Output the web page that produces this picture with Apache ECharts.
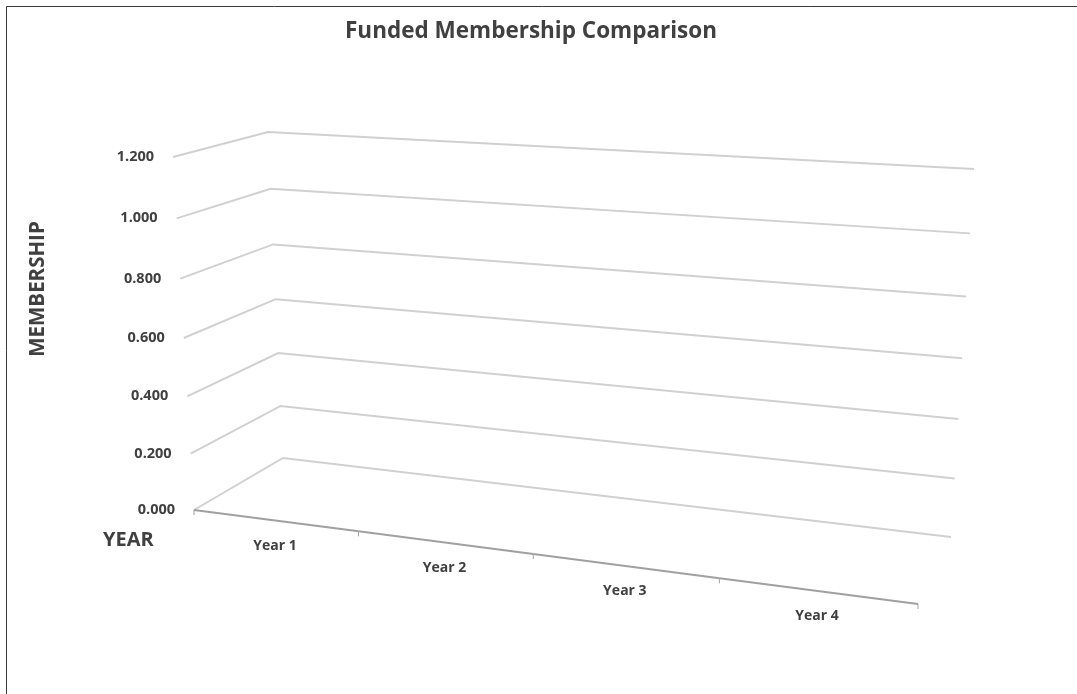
<!DOCTYPE html>
<html>
<head>
<meta charset="utf-8">
<title>Funded Membership Comparison</title>
<script src="https://cdn.jsdelivr.net/npm/echarts@6/dist/echarts.min.js"></script>
<style>
  html, body { margin: 0; padding: 0; background: #fff; }
  #chart { width: 1077px; height: 694px; }
</style>
</head>
<body>
<div id="chart"></div>
<script>
const categories = ['Year 1', 'Year 2', 'Year 3', 'Year 4'];
const membership = [0, 0, 0, 0]; // no columns visible in the original
const valueTicks = [0, 0.2, 0.4, 0.6, 0.8, 1.0, 1.2];

// corners of the 3D box as drawn in the picture (u,v) = (0,0),(1,0),(1,1),(0,1)
const LEFT_WALL = [[194, 510], [283, 458], [268, 132], [173, 157]];
const BACK_WALL = [[283, 458], [951, 537], [974, 169], [268, 132]];
const FLOOR = [[194, 510], [918, 604], [951, 537], [283, 458]];

const TEXT = '#404040';
const FONT = '"Open Sans", "Liberation Sans", sans-serif';

// unit square -> quad (projective), so the walls get their perspective
function quadMap(q) {
  const [[x0, y0], [x1, y1], [x2, y2], [x3, y3]] = q;
  const dx1 = x1 - x2, dx2 = x3 - x2, dx3 = x0 - x1 + x2 - x3;
  const dy1 = y1 - y2, dy2 = y3 - y2, dy3 = y0 - y1 + y2 - y3;
  const den = dx1 * dy2 - dx2 * dy1;
  const g = (dx3 * dy2 - dx2 * dy3) / den;
  const h = (dx1 * dy3 - dx3 * dy1) / den;
  const a = x1 - x0 + g * x1, b = x3 - x0 + h * x3, c = x0;
  const d = y1 - y0 + g * y1, e = y3 - y0 + h * y3, f = y0;
  return (u, v) => {
    const w = g * u + h * v + 1;
    return [(a * u + b * v + c) / w, (d * u + e * v + f) / w];
  };
}

const leftWall = quadMap(LEFT_WALL);
const backWall = quadMap(BACK_WALL);
const floor = quadMap(FLOOR);

// position inside the hidden grid, as 0..1 fractions
function unit(params, api, cat, val) {
  const cs = params.coordSys;
  const p = api.coord([cat, val]);
  return [(p[0] - cs.x) / cs.width, (cs.y + cs.height - p[1]) / cs.height];
}

const chart = echarts.init(document.getElementById('chart'));

chart.setOption({
  animation: false,
  title: {
    text: 'Funded Membership Comparison',
    left: 340,
    top: 15,
    textStyle: { color: TEXT, fontSize: 22.5, fontWeight: 'bold', fontFamily: FONT }
  },
  grid: { left: 0, right: 0, top: 0, bottom: 0 },
  xAxis: { type: 'category', data: categories, show: false },
  yAxis: { type: 'value', min: 0, max: 1.2, interval: 0.2, show: false },
  graphic: [
    {
      type: 'rect',
      shape: { x: 6.5, y: 6.5, width: 1200, height: 800 },
      style: { fill: null, stroke: '#3a3a3a', lineWidth: 1 },
      silent: true
    },
    {
      type: 'text',
      x: 38,
      y: 289,
      rotation: Math.PI / 2,
      style: {
        text: 'MEMBERSHIP', fill: TEXT, fontSize: 20.5, fontWeight: 'bold', fontFamily: FONT,
        align: 'center', verticalAlign: 'middle'
      }
    },
    {
      type: 'text',
      x: 103,
      y: 540,
      style: {
        text: 'YEAR', fill: TEXT, fontSize: 20, fontWeight: 'bold', fontFamily: FONT,
        align: 'left', verticalAlign: 'middle'
      }
    }
  ],
  series: [
    {
      // gridlines on the left and back walls, with the value labels
      type: 'custom',
      name: 'grid',
      silent: true,
      clip: false,
      data: valueTicks.map(v => [0, v]),
      renderItem: (params, api) => {
        const v = api.value(1);
        const t = unit(params, api, 0, v)[1];
        const a = leftWall(0, t);
        const b = backWall(0, t);
        const c = backWall(1, t);
        return {
          type: 'group',
          children: [
            {
              type: 'polyline',
              shape: { points: [a, b, c] },
              style: { stroke: '#d0d0d0', lineWidth: 2, fill: null }
            },
            {
              type: 'text',
              x: a[0] - 19,
              y: a[1],
              style: {
                text: v.toFixed(3), fill: TEXT, fontSize: 14.5, fontWeight: 'bold', fontFamily: FONT,
                align: 'right', verticalAlign: 'middle'
              }
            }
          ]
        };
      }
    },
    {
      type: 'custom',
      name: 'Membership',
      clip: false,
      data: membership.map((v, i) => [i, v]),
      renderItem: (params, api) => {
        const v = api.value(1);
        if (!(v > 0)) return null;
        const [u, t] = unit(params, api, api.value(0), v);
        const half = api.size([1, 0])[0] / params.coordSys.width * 0.3;
        return {
          type: 'polygon',
          shape: { points: [backWall(u - half, 0), backWall(u + half, 0), backWall(u + half, t), backWall(u - half, t)] },
          style: { fill: '#4472c4' }
        };
      }
    },
    {
      // front edge of the floor: axis line, ticks and year labels
      type: 'custom',
      name: 'yearAxis',
      silent: true,
      clip: false,
      data: categories.map((c, i) => [i, 0]),
      renderItem: (params, api) => {
        const i = api.value(0);
        const u = unit(params, api, i, 0)[0];
        const half = api.size([1, 0])[0] / params.coordSys.width / 2;
        const l = floor(u - half, 0);
        const r = floor(u + half, 0);
        const m = floor(u, 0);
        const children = [
          { type: 'line', shape: { x1: l[0], y1: l[1], x2: r[0], y2: r[1] }, style: { stroke: '#a0a0a0', lineWidth: 2 } },
          { type: 'line', shape: { x1: r[0], y1: r[1], x2: r[0], y2: r[1] + 5 }, style: { stroke: '#a0a0a0', lineWidth: 1 } },
          {
            type: 'text',
            x: m[0],
            y: m[1] + 25,
            style: {
              text: categories[i], fill: TEXT, fontSize: 14, fontWeight: 'bold', fontFamily: FONT,
              align: 'center', verticalAlign: 'middle'
            }
          }
        ];
        if (i === 0) {
          children.push({ type: 'line', shape: { x1: l[0], y1: l[1], x2: l[0], y2: l[1] + 5 }, style: { stroke: '#a0a0a0', lineWidth: 1 } });
        }
        return { type: 'group', children };
      }
    }
  ]
});

window.addEventListener('resize', () => chart.resize());
</script>
</body>
</html>
